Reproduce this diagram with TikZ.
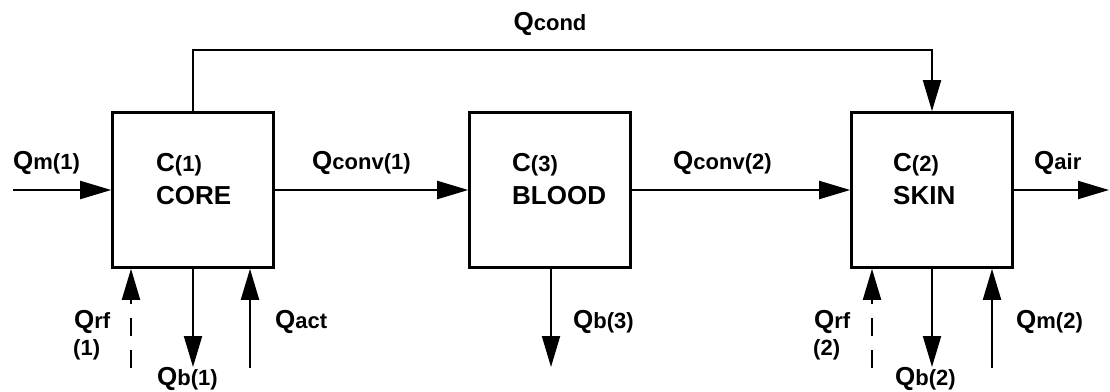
\documentclass[tikz,border=0pt]{standalone}
\usepackage{fontspec}
\setmainfont{Liberation Sans}
\usetikzlibrary{arrows.meta,positioning}

\newcommand{\flux}[2]{{\fontsize{26}{30}\selectfont #1}{\fontsize{22}{26}\selectfont #2}}

\begin{document}
\begin{tikzpicture}[x=1pt, y=-1pt,
      comp/.style={draw, line width=2.6pt, minimum width=161pt, minimum height=155pt, inner sep=0pt},
      flow/.style={line width=2pt, -{Triangle[length=31pt, width=18pt]}},
      rflow/.style={flow, dash pattern=on 18pt off 14pt},
      lbl/.style={font=\bfseries, inner sep=0pt},
      compname/.style={lbl, align=left, anchor=west, font=\bfseries\fontsize{26}{33}\selectfont}
    ]
      \useasboundingbox (0,0) rectangle (1110,391);

      % compartments
      \node[comp] (core) at (193,190) {};
      \node[comp] (blood) at (550,190) {};
      \node[comp] (skin) at (932,190) {};

      \node[compname] (corename) at (156,179) {\flux{C}{(1)}\\CORE};
      \node[compname] (bloodname) at (512,179) {\flux{C}{(3)}\\BLOOD};
      \node[compname] (skinname) at (893,179) {\flux{C}{(2)}\\SKIN};

      % free ends
      \coordinate (min) at (13,190);
      \coordinate (aout) at (1109,190);
      \coordinate (rf1) at (131,368);
      \coordinate (b1) at (193,367);
      \coordinate (act) at (250,368);
      \coordinate (b3) at (551,367);
      \coordinate (rf2) at (872,368);
      \coordinate (b2) at (932,367);
      \coordinate (m2) at (992,368);

      % heat flows
      \draw[flow] (min) -- (core.west);
      \draw[flow] (core.east) -- (blood.west);
      \draw[flow] (blood.east) -- (skin.west);
      \draw[flow] (skin.east) -- (aout);
      \draw[flow] (core.north) |- (550,50) -| (skin.north);

      \draw[rflow] (rf1) -- (rf1 |- core.south);
      \draw[flow] (b1 |- core.south) -- (b1);
      \draw[flow] (act) -- (act |- core.south);
      \draw[flow] (b3 |- blood.south) -- (b3);
      \draw[rflow] (rf2) -- (rf2 |- skin.south);
      \draw[flow] (b2 |- skin.south) -- (b2);
      \draw[flow] (m2) -- (m2 |- skin.south);

      % labels
      \node[lbl] (qcond) at (550,24) {\flux{Q}{cond}};
      \node[lbl, anchor=west] (qm1) at (13,163) {\flux{Q}{m(1)}};
      \node[lbl, anchor=west] (qconv1) at (312,163) {\flux{Q}{conv(1)}};
      \node[lbl, anchor=west] (qconv2) at (673,163) {\flux{Q}{conv(2)}};
      \node[lbl, anchor=west] (qair) at (1034,163) {\flux{Q}{air}};

      \node[lbl, anchor=west] (qrf1) at (74,322) {\flux{Q}{rf}};
      \node[lbl, anchor=west] (qrf1n) at (73,350) {\flux{}{(1)}};
      \node[lbl, anchor=west] (qb1) at (157,379) {\flux{Q}{b(1)}};
      \node[lbl, anchor=west] (qact) at (275,322) {\flux{Q}{act}};
      \node[lbl, anchor=west] (qb3) at (573,322) {\flux{Q}{b(3)}};
      \node[lbl, anchor=west] (qrf2) at (814,322) {\flux{Q}{rf}};
      \node[lbl, anchor=west] (qrf2n) at (813,350) {\flux{}{(2)}};
      \node[lbl, anchor=west] (qb2) at (895,379) {\flux{Q}{b(2)}};
      \node[lbl, anchor=west] (qm2) at (1016,322) {\flux{Q}{m(2)}};
    \end{tikzpicture}
\end{document}
